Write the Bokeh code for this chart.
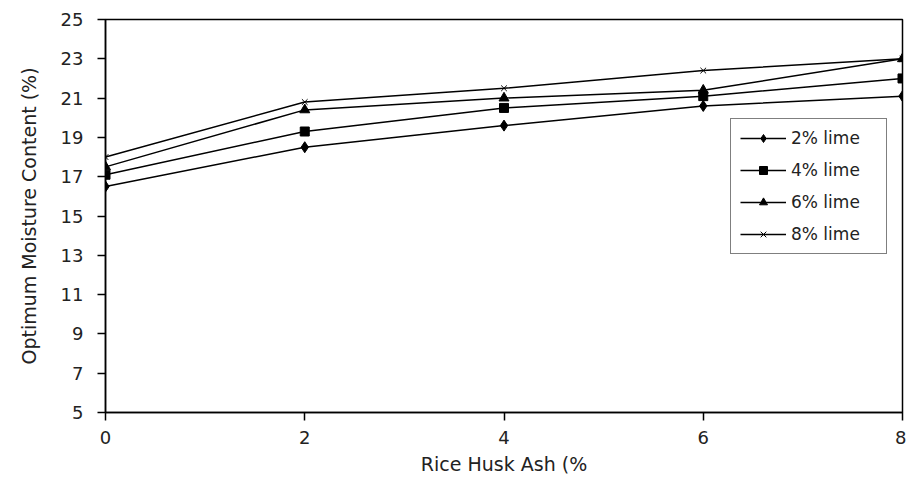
from bokeh.plotting import figure
from bokeh.models import FixedTicker, Range1d, Legend, LegendItem
from bokeh.embed import file_html
from bokeh.resources import INLINE

# data
rha = [0, 2, 4, 6, 8]
lime_2 = [16.5, 18.5, 19.6, 20.6, 21.1]
lime_4 = [17.1, 19.3, 20.5, 21.1, 22.0]
lime_6 = [17.5, 20.4, 21.0, 21.4, 23.0]
lime_8 = [18.0, 20.8, 21.5, 22.4, 23.0]
series_labels = ["2% lime", "4% lime", "6% lime", "8% lime"]
x_ticks = [0, 2, 4, 6, 8]
y_ticks = [5, 7, 9, 11, 13, 15, 17, 19, 21, 23, 25]

FONT = "DejaVu Sans"

p = figure(
    width=906,
    height=488,
    frame_width=797,
    frame_height=393,
    min_border_left=105,
    min_border_top=19,
    min_border_right=4,
    output_backend="svg",
    toolbar_location=None,
    x_range=Range1d(0, 8),
    y_range=Range1d(5, 25),
)
p.grid.visible = False
p.outline_line_color = "black"
p.outline_line_width = 1.5

p.xaxis.ticker = FixedTicker(ticks=x_ticks)
p.yaxis.ticker = FixedTicker(ticks=y_ticks)
p.xaxis.axis_label = "Rice Husk Ash (%"
p.yaxis.axis_label = "Optimum Moisture Content (%)"
for ax in (p.xaxis, p.yaxis):
    ax.axis_line_color = "black"
    ax.axis_line_width = 1.5
    ax.major_tick_line_color = "black"
    ax.major_tick_line_width = 1.5
    ax.major_tick_in = 0
    ax.major_tick_out = 8
    ax.minor_tick_line_color = None
    ax.major_label_text_font = FONT
    ax.major_label_text_font_size = "18px"
    ax.major_label_text_color = "#222222"
    ax.axis_label_text_font = FONT
    ax.axis_label_text_font_size = "19px"
    ax.axis_label_text_font_style = "normal"
    ax.axis_label_text_color = "#222222"
p.xaxis.major_label_standoff = 10
p.yaxis.major_label_standoff = 14
p.xaxis.axis_label_standoff = 6
p.yaxis.axis_label_standoff = 18

items = []
for ys, label, marker, size in zip(
    [lime_2, lime_4, lime_6, lime_8],
    series_labels,
    ["diamond", "square", "triangle", "x"],
    [11, 9, 10, 8],
):
    ln = p.line(rha, ys, line_color="black", line_width=1.5)
    sc = p.scatter(
        rha, ys, marker=marker, size=size, fill_color="black", line_color="black"
    )
    items.append(LegendItem(label=label, renderers=[ln, sc]))

legend = Legend(
    items=items,
    location=(625, 158),
    label_text_font=FONT,
    label_text_font_size="17px",
    label_text_color="#222222",
    label_width=86,
    border_line_color="black",
    border_line_width=1.5,
    glyph_width=46,
    glyph_height=20,
    spacing=12,
    padding=9,
    margin=0,
    label_standoff=5,
)
p.add_layout(legend, "center")

open("out.html", "w").write(file_html(p, INLINE))
